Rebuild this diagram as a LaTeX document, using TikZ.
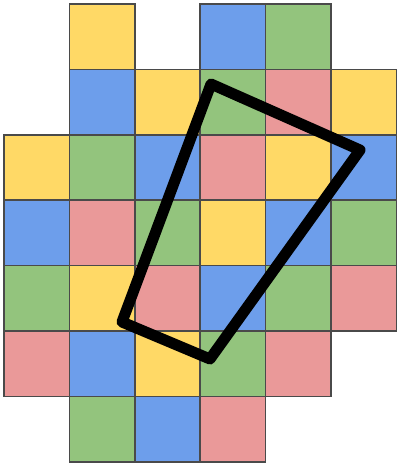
\documentclass[tikz,border=0pt]{standalone}
\definecolor{cy}{HTML}{FFD966}
\definecolor{cb}{HTML}{6D9EEB}
\definecolor{cg}{HTML}{93C47D}
\definecolor{cr}{HTML}{EA9999}
\definecolor{edge}{HTML}{4A4A4A}
\tikzset{cell/.style={draw=edge,line width=1.5pt}}
\begin{document}
\begin{tikzpicture}[x=1pt,y=-1pt]
\useasboundingbox (0,0) rectangle (399,463);
\def\s{65.4}
\def\ox{4}
\def\oy{4}
\foreach \c/\r/\col in {
1/0/cy,3/0/cb,4/0/cg,
1/1/cb,2/1/cy,3/1/cg,4/1/cr,5/1/cy,
0/2/cy,1/2/cg,2/2/cb,3/2/cr,4/2/cy,5/2/cb,
0/3/cb,1/3/cr,2/3/cg,3/3/cy,4/3/cb,5/3/cg,
0/4/cg,1/4/cy,2/4/cr,3/4/cb,4/4/cg,5/4/cr,
0/5/cr,1/5/cb,2/5/cy,3/5/cg,4/5/cr,
1/6/cg,2/6/cb,3/6/cr}
{
  \fill[\col] ({\ox+\c*\s},{\oy+\r*\s}) rectangle ++(\s,\s);
}
\foreach \c/\r in {
1/0,3/0,4/0,
1/1,2/1,3/1,4/1,5/1,
0/2,1/2,2/2,3/2,4/2,5/2,
0/3,1/3,2/3,3/3,4/3,5/3,
0/4,1/4,2/4,3/4,4/4,5/4,
0/5,1/5,2/5,3/5,4/5,
1/6,2/6,3/6}
{
  \draw[cell] ({\ox+\c*\s},{\oy+\r*\s}) rectangle ++(\s,\s);
}
\coordinate (t) at (211,84);
\coordinate (r) at (360,150);
\coordinate (b) at (210,359);
\coordinate (l) at (122,322);
\draw[line width=11pt,line join=round] (t) -- (r) -- (b) -- (l) -- cycle;
\end{tikzpicture}
\end{document}
